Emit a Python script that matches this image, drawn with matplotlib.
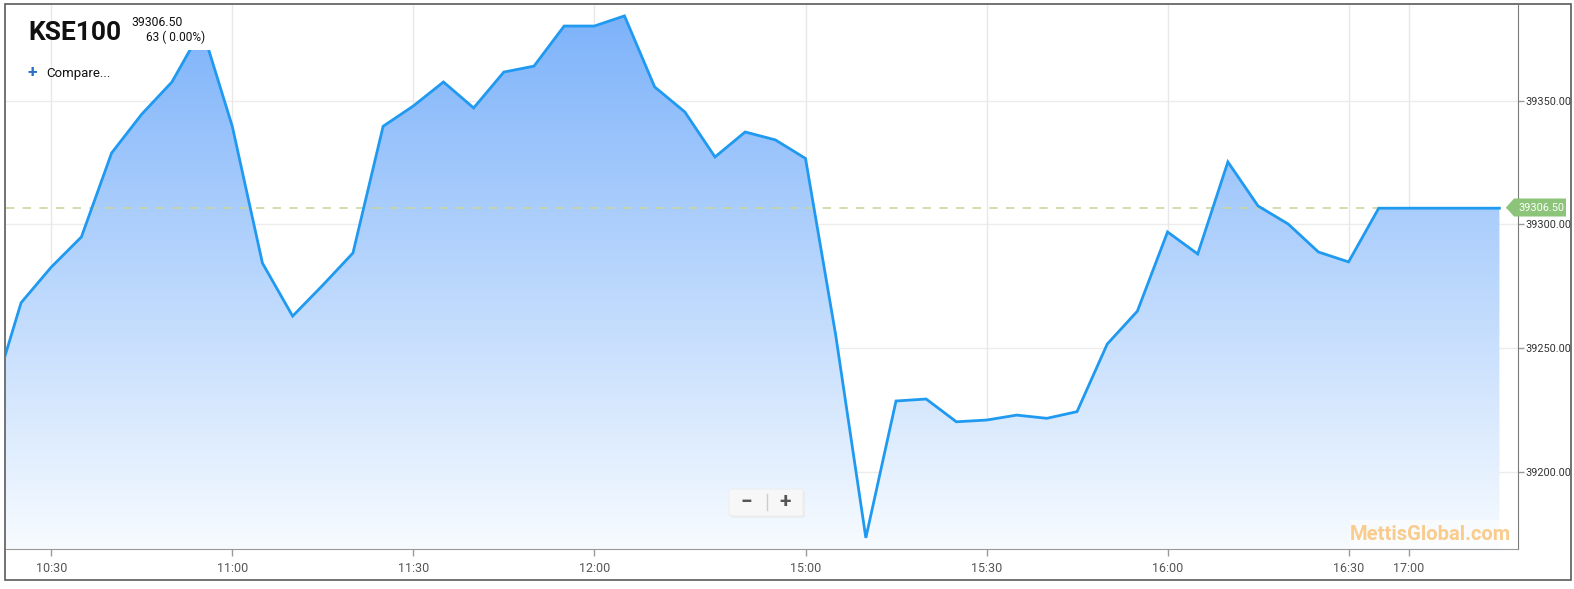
import numpy as np
import matplotlib
matplotlib.use("Agg")
import matplotlib.pyplot as plt
from matplotlib.patches import Polygon, FancyBboxPatch, Rectangle
from matplotlib.colors import LinearSegmentedColormap

plt.rcParams['font.family'] = ['Roboto', 'DejaVu Sans']

# ---- data ----
times = ["10:20", "10:25", "10:30", "10:35", "10:40", "10:45", "10:50", "10:55",
         "11:00", "11:05", "11:10", "11:15", "11:20", "11:25", "11:30", "11:35",
         "11:40", "11:45", "11:50", "11:55", "12:00", "12:05", "12:10", "12:15",
         "12:20", "12:25", "12:30", "15:00", "15:05", "15:10", "15:15", "15:20",
         "15:25", "15:30", "15:35", "15:40", "15:45", "15:50", "15:55", "16:00",
         "16:05", "16:10", "16:15", "16:20", "16:25", "16:30", "16:35", "17:00",
         "17:05", "17:10", "17:15"]
# first value (10:20) lies just left of the visible area
values = [39228.0, 39268.3, 39282.7, 39294.9, 39328.8, 39344.5, 39357.5, 39379.1,
          39339.6, 39284.3, 39262.9, 39275.4, 39288.4, 39339.6, 39347.8, 39357.5,
          39347.0, 39361.5, 39363.9, 39380.1, 39380.1, 39384.2, 39355.5, 39345.4,
          39327.2, 39337.3, 39334.1, 39326.6, 39255.3, 39173.3, 39228.6, 39229.4,
          39220.2, 39220.9, 39222.9, 39221.6, 39224.3, 39251.6, 39264.9, 39296.9,
          39288.0, 39325.2, 39307.4, 39300.1, 39288.8, 39284.8, 39306.5, 39306.5,
          39306.5, 39306.5, 39306.5]
tick_labels = ["10:30", "11:00", "11:30", "12:00", "15:00", "15:30", "16:00", "16:30", "17:00"]
y_ticks = [39200, 39250, 39300, 39350]
last_price = 39306.50
change_text = "63 ( 0.00%)"
title = "KSE100"

n = min(len(times), len(values))
times = times[:n]
values = values[:n]
x = np.arange(n)
tick_pos = [times.index(t) for t in tick_labels]

W, H = 1574, 589
fig = plt.figure(figsize=(W / 100, H / 100), dpi=100)
fig.patch.set_facecolor('white')

# outer frame
fig.add_artist(Rectangle((5 / W, 1 - 580 / H), 1566 / W, 576 / H, transform=fig.transFigure,
                         fill=False, edgecolor='#5a5a5a', linewidth=1.2))

ax = fig.add_axes([6 / W, 1 - 549 / H, 1512 / W, 544 / H])
ymin, ymax = 39168.8, 39388.6
x0 = 1 - 0.5
x1 = x0 + 1512 / 30.17
ax.set_xlim(x0, x1)
ax.set_ylim(ymin, ymax)
ax.set_facecolor('white')

# gridlines
for yt in y_ticks:
    ax.axhline(yt, color='#ececec', linewidth=1, zorder=0)
for tp in tick_pos:
    ax.axvline(tp, color='#e8e8e8', linewidth=1, zorder=0)

# gradient fill
cmap = LinearSegmentedColormap.from_list('g', [(0.97, 0.985, 1.0), (0.49, 0.70, 0.98)])
grad = np.linspace(0, 1, 256).reshape(-1, 1)
im = ax.imshow(grad, extent=[x0, x1, ymin, max(values)], origin='lower',
               aspect='auto', cmap=cmap, zorder=1)
poly = Polygon(np.column_stack([np.r_[x[0], x, x[-1]], np.r_[ymin, values, ymin]]),
               closed=True, facecolor='none', edgecolor='none')
ax.add_patch(poly)
im.set_clip_path(poly)

ax.plot(x, values, color='#1f9af0', linewidth=2, zorder=3, solid_joinstyle='miter')

# dashed last-price line
ax.axhline(last_price, color='#c9d8a0', linewidth=1.2, linestyle=(0, (5, 5)), zorder=2)

# axes styling
for s in ['top', 'left']:
    ax.spines[s].set_visible(False)
ax.spines['bottom'].set_color('#9a9a9a')
ax.spines['right'].set_color('#7a7a7a')
ax.yaxis.tick_right()
ax.set_yticks(y_ticks)
ax.set_yticklabels([f"{v:.2f}" for v in y_ticks], fontsize=7.8, color='#333333')
ax.tick_params(axis='y', length=4, width=1, color='#9a9a9a', pad=1)
ax.set_xticks(tick_pos)
ax.set_xticklabels(tick_labels, fontsize=9, color='#555555')
ax.tick_params(axis='x', length=5, width=1, color='#9a9a9a', pad=4)

# price tag on right
tag_y = 1 - 207.5 / H
tx0, tx1, th = 1506 / W, 1566 / W, 9 / H
fig.add_artist(Polygon([(tx0, tag_y), (tx0 + 8 / W, tag_y + th), (tx1, tag_y + th),
                        (tx1, tag_y - th), (tx0 + 8 / W, tag_y - th)],
                       closed=True, transform=fig.transFigure, facecolor='#8cc47a',
                       edgecolor='none', zorder=10))
fig.text(1541 / W, tag_y, f"{last_price:.2f}", color='white', fontsize=7.8,
         ha='center', va='center', zorder=11)

# title block (white box hides the chart behind)
fig.add_artist(Rectangle((124 / W, 1 - 50 / H), 88 / W, 40 / H, transform=fig.transFigure,
                         facecolor='white', edgecolor='none', zorder=8))
fig.text(28 / W, 1 - 33 / H, title, fontsize=19, fontweight='bold', color='#111111',
         va='center', ha='left', family=['Liberation Sans Narrow', 'Roboto'], zorder=9)
fig.text(131 / W, 1 - 23 / H, f"{last_price:.2f}", fontsize=8.8, color='#111111',
         va='center', ha='left', zorder=9)
fig.text(205 / W, 1 - 37.5 / H, change_text, fontsize=8.6, color='#111111',
         va='center', ha='right', zorder=9)
fig.text(27 / W, 1 - 73 / H, "+", fontsize=12.5, fontweight='bold', color='#2a70c8',
         va='center', ha='left', zorder=9)
fig.text(46 / W, 1 - 73 / H, "Compare...", fontsize=9.5, color='#111111',
         va='center', ha='left', zorder=9)

# zoom buttons
fig.add_artist(FancyBboxPatch((731 / W, 1 - 518 / H), 74 / W, 27 / H,
                              boxstyle='round,pad=0,rounding_size=0.003',
                              transform=fig.transFigure, facecolor='#e6e6e6',
                              edgecolor='none', alpha=0.6, zorder=8))
fig.add_artist(FancyBboxPatch((729 / W, 1 - 516 / H), 74 / W, 27 / H,
                              boxstyle='round,pad=0,rounding_size=0.003',
                              transform=fig.transFigure, facecolor='#f7f7f7',
                              edgecolor='#eeeeee', linewidth=0.8, zorder=9))
fig.add_artist(plt.Line2D([767 / W, 767 / W], [1 - 510 / H, 1 - 494 / H],
                          transform=fig.transFigure, color='#cccccc', linewidth=1, zorder=10))
fig.text(746 / W, 1 - 502 / H, "\u2212", fontsize=15, fontweight='bold', color='#555555',
         va='center', ha='center', zorder=10)
fig.text(785 / W, 1 - 502 / H, "+", fontsize=15, fontweight='bold', color='#555555',
         va='center', ha='center', zorder=10)

# watermark
fig.add_artist(Rectangle((1350 / W, 1 - 548 / H), 168 / W, 28 / H, transform=fig.transFigure,
                         facecolor='white', edgecolor='none', alpha=0.5, zorder=8))
fig.text(1430 / W, 1 - 535 / H, "MettisGlobal.com", fontsize=14.5, fontweight='bold',
         color='#f9cb8c', va='center', ha='center', zorder=9)

fig.savefig('out.png', dpi=100, facecolor='white')
